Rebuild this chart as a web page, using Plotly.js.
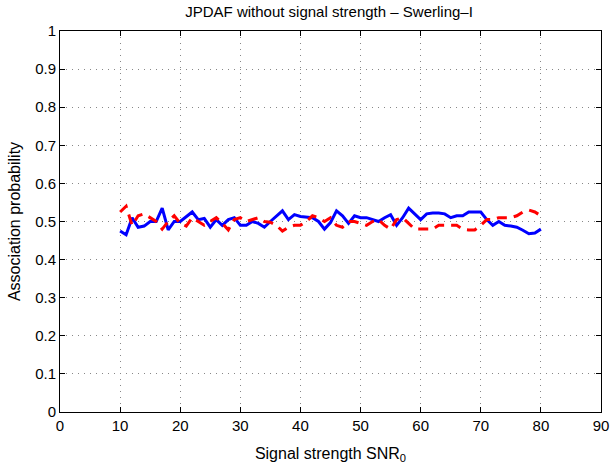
<!DOCTYPE html>
<html>
<head>
<meta charset="utf-8">
<script src="https://cdn.plot.ly/plotly-3.0.1.min.js"></script>
<style>html,body{margin:0;padding:0;background:#fff;}#chart{width:615px;height:472px;}</style>
</head>
<body>
<div id="chart"></div>
<script>
const snr = [10,11,12,13,14,15,16,17,18,19,20,21,22,23,24,25,26,27,28,29,30,31,32,33,34,35,36,37,38,39,40,41,42,43,44,45,46,47,48,49,50,51,52,53,54,55,56,57,58,59,60,61,62,63,64,65,66,67,68,69,70,71,72,73,74,75,76,77,78,79,80];
const blueProb = [0.475,0.465,0.51,0.485,0.488,0.50,0.50,0.535,0.478,0.50,0.50,0.512,0.525,0.505,0.508,0.485,0.505,0.49,0.505,0.51,0.49,0.49,0.50,0.495,0.485,0.50,0.515,0.528,0.505,0.518,0.513,0.512,0.51,0.50,0.48,0.497,0.528,0.515,0.495,0.515,0.51,0.51,0.505,0.50,0.51,0.518,0.49,0.51,0.535,0.52,0.505,0.52,0.522,0.522,0.52,0.51,0.515,0.515,0.525,0.525,0.525,0.505,0.49,0.50,0.49,0.488,0.485,0.477,0.468,0.47,0.48];
const redProb = [0.525,0.54,0.49,0.515,0.52,0.51,0.50,0.48,0.50,0.515,0.495,0.488,0.51,0.50,0.49,0.50,0.51,0.495,0.478,0.505,0.51,0.50,0.505,0.51,0.50,0.498,0.49,0.475,0.485,0.49,0.49,0.50,0.515,0.51,0.50,0.51,0.49,0.485,0.50,0.50,0.495,0.49,0.50,0.505,0.49,0.48,0.505,0.51,0.495,0.48,0.48,0.48,0.48,0.49,0.49,0.49,0.49,0.48,0.478,0.478,0.49,0.505,0.505,0.51,0.51,0.51,0.515,0.525,0.53,0.525,0.515];
const xTicks = [0,10,20,30,40,50,60,70,80,90];
const yTicks = [0,0.1,0.2,0.3,0.4,0.5,0.6,0.7,0.8,0.9,1];

const traces = [
  {x: snr, y: blueProb, type: 'scatter', mode: 'lines', line: {color: '#0000ff', width: 3}, showlegend: false},
  {x: snr, y: redProb, type: 'scatter', mode: 'lines', line: {color: '#ff0000', width: 3, dash: '10px,7px'}, showlegend: false}
];
const axisCommon = {
  showline: true, linecolor: '#000', linewidth: 1, mirror: 'ticks',
  ticks: 'inside', ticklen: 5, tickcolor: '#000',
  showgrid: true, gridcolor: '#888', griddash: '1px,5px', gridwidth: 1,
  zeroline: false,
  tickfont: {family: 'Liberation Sans, Arial, sans-serif', size: 15, color: '#000'}
};
const layout = {
  width: 615, height: 472,
  margin: {l: 60, r: 14, t: 31, b: 60},
  paper_bgcolor: '#fff', plot_bgcolor: '#fff',
  title: {text: 'JPDAF without signal strength \u2013 Swerling\u2013I', x: 0.535, xanchor: 'center', y: 0.975, yanchor: 'middle',
          font: {family: 'Liberation Sans, Arial, sans-serif', size: 15, color: '#000'}},
  xaxis: Object.assign({}, axisCommon, {range: [0, 90], tickvals: xTicks, ticktext: xTicks.map(String),
    title: {text: 'Signal strength SNR<sub>0</sub>', standoff: 14, font: {family: 'Liberation Sans, Arial, sans-serif', size: 16, color: '#000'}}}),
  yaxis: Object.assign({}, axisCommon, {range: [0, 1], tickvals: yTicks, ticktext: yTicks.map(String),
    title: {text: 'Association probability', standoff: 10, font: {family: 'Liberation Sans, Arial, sans-serif', size: 16, color: '#000'}}})
};
Plotly.newPlot('chart', traces, layout, {displayModeBar: false, staticPlot: true});
</script>
</body>
</html>
